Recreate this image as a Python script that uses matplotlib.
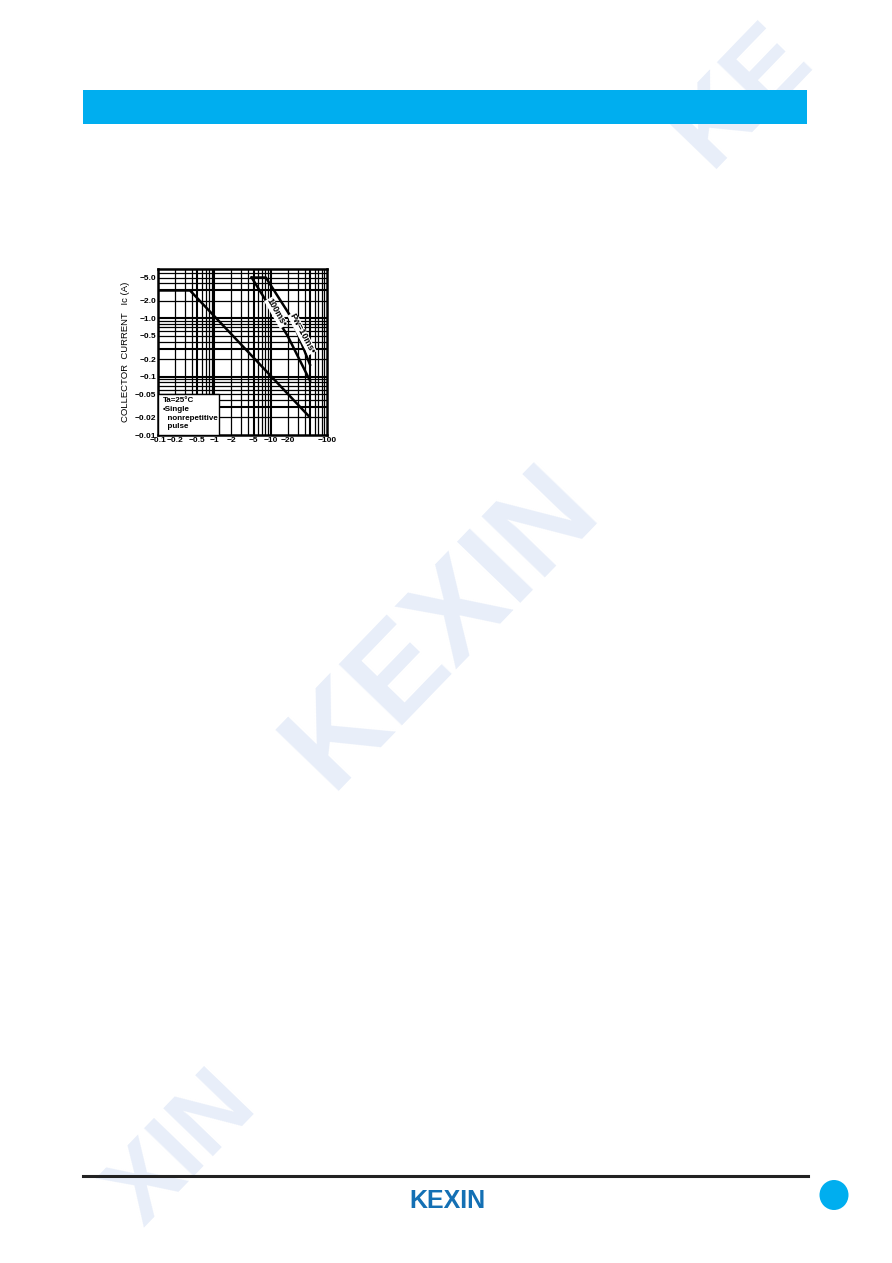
import matplotlib
matplotlib.use("Agg")
import matplotlib.pyplot as plt
from matplotlib.patches import Rectangle, Ellipse
import matplotlib.ticker as mticker

plt.rcParams['font.family'] = ['Liberation Sans', 'DejaVu Sans']

# ---- data (magnitudes; labels shown negative) ----
vce_dc = [0.1, 0.37, 50]
ic_dc = [3.0, 3.0, 0.02]
vce_100ms = [4.6, 20, 50]
ic_100ms = [5.0, 0.5, 0.085]
vce_10ms = [4.6, 8.2, 23, 50]
ic_10ms = [5.0, 5.0, 1.05, 0.16]

x_ticks = [0.1, 0.2, 0.5, 1, 2, 5, 10, 20, 100]
x_labels = ["\u22120.1", "\u22120.2", "\u22120.5", "\u22121", "\u22122", "\u22125", "\u221210", "\u221220", "\u2212100"]
y_ticks = [5.0, 2.0, 1.0, 0.5, 0.2, 0.1, 0.05, 0.02, 0.01]
y_labels = ["\u22125.0", "\u22122.0", "\u22121.0", "\u22120.5", "\u22120.2", "\u22120.1", "\u22120.05", "\u22120.02", "\u22120.01"]

W, H = 892, 1263
fig = plt.figure(figsize=(W / 100, H / 100), dpi=100)
fig.patch.set_facecolor('white')

def fx(px):
    return px / W

def fy(py):
    return 1 - py / H

wm = '#e8eef9'
# watermarks
fig.text(fx(442), fy(628), "KEXIN", rotation=46, fontsize=92, fontweight='bold',
         color=wm, ha='center', va='center', zorder=0)
fig.text(fx(690), fy(150), "KE", rotation=46, fontsize=78, fontweight='bold',
         color=wm, ha='left', va='center', zorder=0, rotation_mode='anchor')
fig.text(fx(240), fy(1090), "XIN", rotation=46, fontsize=72, fontweight='bold',
         color=wm, ha='right', va='center', zorder=0, rotation_mode='anchor')

# banner
fig.patches.append(Rectangle((fx(83), fy(124)), fx(807) - fx(83), (124 - 90) / H,
                             transform=fig.transFigure, facecolor='#00aeef',
                             edgecolor='none', zorder=1))
# footer
fig.add_artist(plt.Line2D([fx(83), fx(808)], [fy(1176), fy(1176)], color='#222222',
                          linewidth=2.2, transform=fig.transFigure))
fig.text(fx(447), fy(1201), "KEXIN", fontsize=18, fontweight='bold', color='#1470b4',
         ha='center', va='center')
fig.patches.append(Ellipse((fx(834), fy(1195)), 29 / W, 30 / H,
                   transform=fig.transFigure, facecolor='#00aeef', edgecolor='none'))

# chart
ax = fig.add_axes([fx(158), fy(435), fx(327) - fx(158), (435 - 269) / H])
ax.set_xscale('log')
ax.set_yscale('log')
ax.set_xlim(0.1, 100)
ax.set_ylim(0.01, 7)

for dec in [0.1, 1, 10]:
    for m in range(1, 10):
        v = dec * m
        if 0.1 < v < 100:
            ax.axvline(v, color='black', lw=1.5 if m in (1, 5) else 0.9, zorder=1)
for dec in [0.01, 0.1, 1]:
    for m in range(1, 10):
        v = dec * m
        if 0.01 < v < 7:
            ax.axhline(v, color='black', lw=1.5 if m in (1, 3) else 0.9, zorder=1)

ax.plot(vce_dc, ic_dc, color='black', lw=1.8, zorder=3)
ax.plot(vce_100ms, ic_100ms, color='black', lw=1.8, zorder=3)
ax.plot(vce_10ms, ic_10ms, color='black', lw=1.8, zorder=3)

ax.text(12.5, 1.25, "100ms\u2022", rotation=-60, fontsize=6.5, fontweight='bold',
        ha='center', va='center', zorder=4,
        bbox=dict(facecolor='white', edgecolor='none', pad=0.2))
ax.text(36, 0.55, "Pw=10ms\u2022", rotation=-62, fontsize=6.5, fontweight='bold',
        ha='center', va='center', zorder=4,
        bbox=dict(facecolor='white', edgecolor='none', pad=0.2))

# condition box
ax.add_patch(Rectangle((0, 0), 0.36, 0.25, transform=ax.transAxes, facecolor='white',
                       edgecolor='black', lw=1.0, zorder=5))
box_lines = ["Ta=25\u00b0C", "\u2022Single", "  nonrepetitive", "  pulse"]
for i, t in enumerate(box_lines):
    ax.text(0.03, 0.205 - i * 0.052, t, transform=ax.transAxes, fontsize=5.8,
            fontweight='bold', va='center', ha='left', zorder=6)

ax.set_xticks(x_ticks)
ax.set_xticklabels(x_labels)
ax.set_yticks(y_ticks)
ax.set_yticklabels(y_labels)
ax.xaxis.set_minor_locator(mticker.NullLocator())
ax.yaxis.set_minor_locator(mticker.NullLocator())
ax.tick_params(axis='both', length=0, labelsize=6, pad=1.5)
for lab in ax.get_xticklabels() + ax.get_yticklabels():
    lab.set_fontweight('bold')
for s in ax.spines.values():
    s.set_linewidth(1.8)
ax.set_ylabel("COLLECTOR  CURRENT   Ic (A)", fontsize=6.8, labelpad=3)

fig.savefig("out.png", dpi=100, facecolor='white')
